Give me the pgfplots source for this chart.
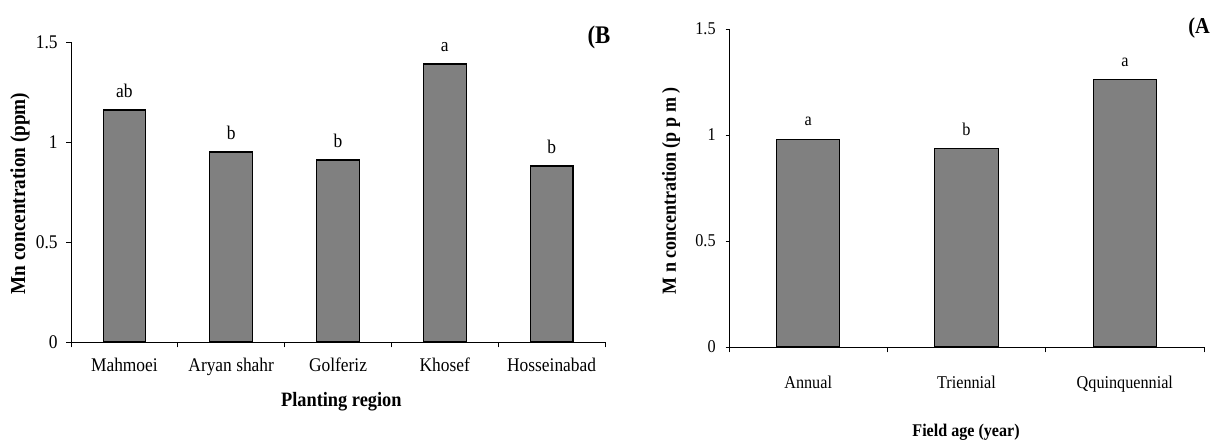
\documentclass[border=0pt]{standalone}
\usepackage{fontspec}
\setmainfont[FakeStretch=0.9]{Liberation Serif}
\usepackage{pgfplots}
\usepackage{pgfplotstable}
\pgfplotsset{compat=1.18}
\definecolor{barg}{RGB}{128,128,128}

\pgfplotstableread{
x y lab
0 1.16 ab
1 0.95 b
2 0.91 b
3 1.39 a
4 0.88 b
}\regiondata

\pgfplotstableread{
x y lab
0 0.98 a
1 0.935 b
2 1.26 a
}\agedata

\begin{document}
\begin{tikzpicture}
\pgfplotsset{
  common/.style={
    scale only axis,
    anchor=south west,
    axis x line*=bottom,
    axis y line*=left,
    axis line style={-, line width=0.6pt},
    ymin=0, ymax=1.5,
    ytick={0,0.5,1,1.5},
    tick align=outside,
    major tick length=3.5pt,
    minor tick length=4pt,
    xtick style={draw=none},
    minor x tick style={draw=black, line width=0.6pt},
    y tick style={line width=0.6pt, black},
    /pgf/number format/assume math mode=true,
    ybar, bar width=0.4,
    nodes near coords,
    point meta=explicit symbolic,
    clip=false,
  }
}
\begin{axis}[common,
  at={(53.25pt,74.25pt)},
  width=400.5pt, height=225pt,
  xmin=-0.5, xmax=4.5,
  xtick={0,1,2,3,4},
  xticklabels={Mahmoei,Aryan shahr,Golferiz,Khosef,Hosseinabad},
  minor xtick={-0.5,0.5,1.5,2.5,3.5,4.5},
  ticklabel style={font=\fontsize{14.5}{16}\selectfont},
  xticklabel style={anchor=base, yshift=-19pt},
  yticklabel style={xshift=-3pt},
  nodes near coords style={anchor=base, yshift=9.5pt, font=\fontsize{14.5}{16}\selectfont, black},
]
\addplot[fill=barg, draw=black, line width=0.8pt] table[x=x, y=y, meta=lab] {\regiondata};
\end{axis}

\begin{axis}[common,
  at={(546.75pt,70.5pt)},
  width=356.25pt, height=238.5pt,
  xmin=-0.5, xmax=2.5,
  xtick={0,1,2},
  xticklabels={Annual,Triennial,Qquinquennial},
  minor xtick={-0.5,0.5,1.5,2.5},
  major tick length=2.5pt,
  ticklabel style={font=\fontsize{13.5}{15}\selectfont},
  xticklabel style={anchor=base, yshift=-28.5pt},
  yticklabel style={xshift=-4pt},
  nodes near coords style={anchor=base, yshift=10pt, font=\fontsize{13.5}{15}\selectfont, black},
]
\addplot[fill=barg, draw=black, line width=0.8pt] table[x=x, y=y, meta=lab] {\agedata};
\end{axis}

\node[anchor=base, font=\bfseries\fontsize{15.3}{17}\selectfont] at (256pt,25.5pt) {Planting region};
\node[anchor=base, font=\bfseries\fontsize{13.4}{15}\selectfont] at (724.5pt,3pt) {Field age (year)};
\node[rotate=90, font=\bfseries\fontsize{16}{18}\selectfont] at (15pt,185.6pt) {Mn concentration (ppm)};
\node[rotate=90, font=\bfseries\fontsize{15}{17}\selectfont] at (503.25pt,187.5pt) {M n concentration (p p m )};
\node[font=\bfseries\fontsize{19}{21}\selectfont] at (449.25pt,303pt) {(B};
\node[anchor=west, inner sep=0pt, font=\bfseries\fontsize{17}{19}\selectfont] at (891pt,309.75pt) {(A};

\pgfresetboundingbox
\useasboundingbox (0,0) rectangle (909pt,330.75pt);
\end{tikzpicture}
\end{document}
